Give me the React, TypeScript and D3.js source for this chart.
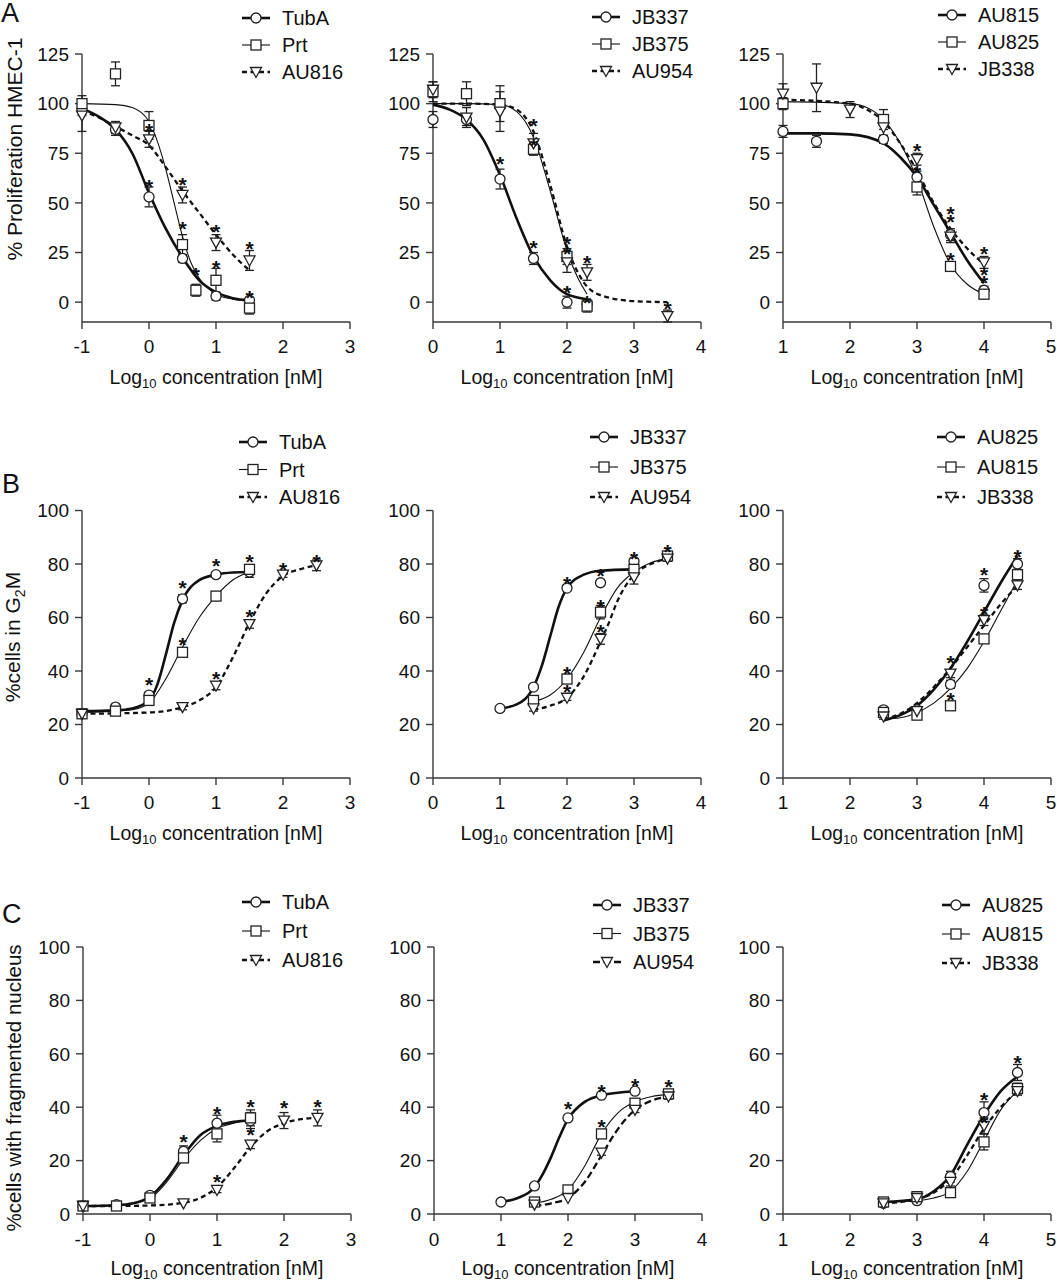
import React from 'react';
import * as d3 from 'd3';

// ---------- DATA (log10 conc, mean, error) ----------
// Row A: % Proliferation HMEC-1
const A1_names = ['TubA', 'Prt', 'AU816'];
const A1_TubA = [[-1, 97, 3], [-0.5, 87, 3], [0, 53, 5], [0.5, 22, 2], [1, 3, 2], [1.5, 1, 1]];
const A1_Prt = [[-1, 100, 4], [-0.5, 115, 6], [0, 89, 7], [0.5, 29, 5], [0.7, 6, 3], [1, 11, 6], [1.5, -3, 3]];
const A1_AU816 = [[-1, 94, 8], [-0.5, 88, 3], [0, 82, 4], [0.5, 54, 4], [1, 30, 4], [1.5, 21, 5]];
const A1_TubA_fit = [[-1, 97.5], [-0.75, 93.5], [-0.5, 87], [-0.25, 75], [0, 55], [0.25, 37], [0.5, 22.5], [0.75, 11], [1, 5], [1.25, 2], [1.5, 1]];
const A1_Prt_fit = [[-1, 100], [-0.5, 99.5], [-0.25, 98], [0, 91], [0.125, 81], [0.25, 67], [0.375, 50], [0.5, 33], [0.625, 20], [0.75, 12], [1, 4], [1.25, 1.5], [1.5, 0.5]];
const A1_AU816_fit = [[-1, 96.5], [-0.75, 93], [-0.5, 88.5], [-0.25, 84], [0, 79], [0.25, 68], [0.5, 56], [0.75, 45], [1, 34], [1.25, 24], [1.5, 16]];
const A1_stars = [[0, 60.5], [0, 88.5], [0.5, 61.5], [0.5, 39.5], [0.7, 16], [1, 38], [1, 19.5], [1.5, 29.5], [1.5, 4.5]];

const A2_names = ['JB337', 'JB375', 'AU954'];
const A2_JB337 = [[0, 92, 4], [0.5, 92, 3], [1, 62, 5], [1.5, 22, 3], [2, 0, 3], [2.3, -1, 2]];
const A2_JB375 = [[0, 106, 5], [0.5, 105, 6], [1, 100, 9], [1.5, 77, 3], [2, 23, 4], [2.3, -2, 3]];
const A2_AU954 = [[0, 107, 4], [0.5, 93, 5], [1, 96, 10], [1.5, 80, 5], [2, 20, 5], [2.3, 15, 4], [3.5, -7, 3]];
const A2_JB337_fit = [[0, 99.5], [0.25, 97], [0.5, 92], [0.75, 82], [1, 64], [1.25, 42], [1.5, 23], [1.75, 11], [2, 4], [2.3, 1.5]];
const A2_JB375_fit = [[0, 100], [0.5, 100], [1, 99.5], [1.25, 96], [1.5, 83], [1.75, 56], [2, 26], [2.15, 13], [2.3, 4]];
const A2_AU954_fit = [[0, 100], [0.5, 100], [1, 99.5], [1.25, 97], [1.5, 86], [1.75, 59], [2, 28], [2.25, 10], [2.5, 3.5], [3, 0.5], [3.5, 0]];
const A2_stars = [[1.5, 91.5], [1.5, 81], [1, 72], [1.5, 30], [2, 32], [2, 27], [2, 7], [2.3, 22], [2.3, 2], [3.5, -1]];

const A3_names = ['AU815', 'AU825', 'JB338'];
const A3_AU815 = [[1, 86, 3], [1.5, 81, 3], [2.5, 82, 2], [3, 63, 3], [3.5, 34, 3], [4, 6, 2]];
const A3_AU825 = [[1, 100, 3], [2.5, 92, 5], [3, 58, 4], [3.5, 18, 2], [4, 4, 2]];
const A3_JB338 = [[1, 105, 5], [1.5, 108, 12], [2, 97, 4], [2.5, 88, 4], [3, 72, 3], [3.5, 33, 3], [4, 20, 3]];
const A3_AU815_fit = [[1, 85], [1.5, 85], [2, 84.5], [2.5, 80], [2.75, 73], [3, 63], [3.25, 49], [3.5, 35], [3.75, 21], [4, 9.5]];
const A3_AU825_fit = [[1, 101], [2, 100], [2.25, 98], [2.5, 92], [2.75, 80], [3, 62], [3.25, 38], [3.5, 19], [3.75, 9], [4, 4]];
const A3_JB338_fit = [[1, 102], [2, 100], [2.25, 97], [2.5, 91], [2.75, 80], [3, 66], [3.25, 50], [3.5, 37], [3.75, 27], [4, 19]];
const A3_stars = [[3, 78.5], [3, 67.5], [3.5, 47], [3.5, 43], [3.5, 23.5], [4, 27], [4, 16], [4, 12]];

// Row B: % cells in G2M
const B1_names = ['TubA', 'Prt', 'AU816'];
const B1_TubA = [[-1, 24, 1], [-0.5, 26.5, 1], [0, 31, 1], [0.5, 67, 1.5], [1, 76, 1], [1.5, 77, 2]];
const B1_Prt = [[-1, 24, 1], [-0.5, 25, 1], [0, 29, 1], [0.5, 47, 1.5], [1, 68, 1], [1.5, 78, 1]];
const B1_AU816 = [[-1, 24, 1], [0.5, 26.5, 1], [1, 34.5, 1.5], [1.5, 57.5, 1.5], [2, 76, 1], [2.5, 79.5, 2]];
const B1_TubA_fit = [[-1, 25], [-0.5, 25.3], [-0.25, 26], [0, 29], [0.125, 35], [0.25, 46], [0.375, 58], [0.5, 66.5], [0.75, 74], [1, 76], [1.25, 76.8], [1.5, 77]];
const B1_Prt_fit = [[-1, 24.5], [-0.5, 25], [-0.25, 25.5], [0, 28], [0.25, 37], [0.5, 49], [0.75, 60], [1, 68], [1.25, 74], [1.5, 77]];
const B1_AU816_fit = [[-1, 24], [0, 24.5], [0.5, 26.5], [0.75, 29], [1, 34], [1.25, 45], [1.5, 58], [1.75, 69], [2, 75.5], [2.25, 78], [2.5, 79.5]];
const B1_stars = [[0, 36.5], [0.5, 72.75], [0.5, 51.5], [1, 81], [1, 39], [1.5, 82.75], [1.5, 62], [2, 79.6], [2.5, 82.75]];

const B2_names = ['JB337', 'JB375', 'AU954'];
const B2_JB337 = [[1, 26, 0.5], [1.5, 34, 0.5], [2, 71, 1], [2.5, 73, 0.5], [3, 81, 1]];
const B2_JB375 = [[1.5, 29, 1], [2, 37, 1], [2.5, 62, 2.5], [3, 78, 2], [3.5, 83, 1]];
const B2_AU954 = [[1.5, 26, 1], [2, 30, 1], [2.5, 52, 2], [3, 75, 2.5], [3.5, 82, 1]];
const B2_JB337_fit = [[1, 26], [1.25, 27.5], [1.5, 34], [1.625, 42], [1.75, 53], [1.875, 64], [2, 71], [2.25, 76], [2.5, 77.5], [3, 78]];
const B2_JB375_fit = [[1.5, 28.5], [1.75, 31], [2, 37], [2.25, 47], [2.5, 60], [2.75, 71], [3, 77], [3.25, 80.5], [3.5, 82]];
const B2_AU954_fit = [[1.5, 25.5], [1.75, 27], [2, 30], [2.25, 38], [2.5, 51], [2.625, 58], [2.75, 66], [3, 76], [3.25, 80], [3.5, 82]];
const B2_stars = [[2, 74.4], [2.5, 77.5], [3, 83.8], [3.5, 86.5], [2, 40.8], [2, 34], [2.5, 65.7], [2.5, 56.4]];

const B3_names = ['AU825', 'AU815', 'JB338'];
const B3_AU825 = [[2.5, 25.5, 1], [3, 25.5, 1], [3.5, 35, 1.5], [4, 72, 2.5], [4.5, 80, 2]];
const B3_AU815 = [[2.5, 24.5, 1], [3, 23.5, 1], [3.5, 27, 1], [4, 52, 1.5], [4.5, 76, 1.5]];
const B3_JB338 = [[2.5, 23, 1], [3, 25, 1], [3.5, 39, 1.5], [4, 59, 2], [4.5, 72, 1.5]];
const B3_AU825_fit = [[2.5, 21.5], [2.75, 23.5], [3, 27], [3.25, 33], [3.5, 41], [3.75, 51], [4, 62], [4.25, 73], [4.5, 83]];
const B3_AU815_fit = [[2.5, 22], [2.75, 22.5], [3, 24.5], [3.25, 28], [3.5, 33.5], [3.75, 41], [4, 51], [4.25, 62.5], [4.5, 74]];
const B3_JB338_fit = [[2.5, 22], [2.75, 24], [3, 28], [3.25, 34], [3.5, 41], [3.75, 49], [4, 57], [4.25, 65], [4.5, 72]];
const B3_stars = [[4, 77.7], [4.5, 84.6], [4, 63], [3.5, 45], [3.5, 31]];

// Row C: % cells with fragmented nucleus
const C1_names = ['TubA', 'Prt', 'AU816'];
const C1_TubA = [[-1, 3, 0.5], [-0.5, 3.5, 0.5], [0, 7, 0.5], [0.5, 23.5, 2], [1, 34, 3], [1.5, 35, 3]];
const C1_Prt = [[-1, 3, 0.5], [-0.5, 3, 0.5], [0, 6, 0.5], [0.5, 21, 1.5], [1, 30, 3], [1.5, 36, 3]];
const C1_AU816 = [[-1, 3, 0.5], [0.5, 4, 0.5], [1, 9, 1], [1.5, 26, 1.5], [2, 35, 3], [2.5, 36, 3]];
const C1_TubA_fit = [[-1, 3], [-0.5, 3.3], [-0.25, 4], [0, 6.5], [0.25, 13], [0.5, 22], [0.75, 29.5], [1, 33], [1.25, 34.5], [1.5, 35]];
const C1_Prt_fit = [[-1, 3], [-0.5, 3.2], [0, 6], [0.25, 12], [0.5, 20.5], [0.75, 27.5], [1, 32], [1.25, 34], [1.5, 35]];
const C1_AU816_fit = [[-1, 3], [-0.5, 3], [0, 3.2], [0.5, 4.2], [0.75, 6], [1, 10], [1.25, 17], [1.5, 25], [1.75, 31], [2, 34], [2.25, 35.5], [2.5, 36]];
const C1_stars = [[0.5, 29], [1, 39.5], [1.5, 42], [1.5, 31.5], [1, 14], [2, 41.5], [2.5, 42]];

const C2_names = ['JB337', 'JB375', 'AU954'];
const C2_JB337 = [[1, 4.5, 0.5], [1.5, 10.5, 0.5], [2, 36, 1], [2.5, 44.5, 0.5], [3, 46, 0.5]];
const C2_JB375 = [[1.5, 4.5, 0.5], [2, 9, 1], [2.5, 30, 1], [3, 41.5, 1], [3.5, 45, 1]];
const C2_AU954 = [[1.5, 3.5, 0.5], [2, 6, 0.5], [2.5, 23, 1], [3, 39, 1], [3.5, 44, 1]];
const C2_JB337_fit = [[1, 4.5], [1.25, 6], [1.5, 10], [1.625, 15], [1.75, 21.5], [1.875, 29], [2, 35.5], [2.25, 42], [2.5, 44.5], [3, 46]];
const C2_JB375_fit = [[1.5, 4], [1.75, 5.5], [2, 9], [2.25, 18], [2.5, 30], [2.75, 38], [3, 42], [3.25, 44], [3.5, 44.8]];
const C2_AU954_fit = [[1.5, 3], [1.75, 4], [2, 6], [2.25, 12], [2.5, 22], [2.75, 32], [3, 39], [3.25, 42.5], [3.5, 44]];
const C2_stars = [[2, 41.25], [2.5, 47.5], [3, 50], [3.5, 49.4], [2.5, 34.4]];

const C3_names = ['AU825', 'AU815', 'JB338'];
const C3_AU825 = [[2.5, 4, 0.5], [3, 5, 0.5], [3.5, 14, 2], [4, 38, 4], [4.5, 53, 3]];
const C3_AU815 = [[2.5, 4.5, 0.5], [3, 6.5, 0.5], [3.5, 8, 0.5], [4, 27, 3], [4.5, 47, 2]];
const C3_JB338 = [[2.5, 4, 0.5], [3, 6, 0.5], [3.5, 12, 1.5], [4, 33, 3], [4.5, 46, 1.5]];
const C3_AU825_fit = [[2.5, 4.5], [3, 5.5], [3.25, 8.5], [3.5, 14.5], [3.75, 26], [4, 37], [4.25, 46], [4.5, 51.5]];
const C3_AU815_fit = [[2.5, 4.5], [3, 5], [3.25, 6], [3.5, 8.5], [3.75, 16], [4, 27.5], [4.25, 39], [4.5, 46]];
const C3_JB338_fit = [[2.5, 4], [3, 5.5], [3.25, 8], [3.5, 13], [3.75, 22], [4, 32], [4.25, 40], [4.5, 46]];
const C3_stars = [[4, 44.6], [4.5, 58.6], [4, 36]];

const TICKS_A = [0, 25, 50, 75, 100, 125];
const TICKS_BC = [0, 20, 40, 60, 80, 100];
const XT1 = [-1, 0, 1, 2, 3];
const XT2 = [0, 1, 2, 3, 4];
const XT3 = [1, 2, 3, 4, 5];

// ---------- LAYOUT ----------
const FONT = '"Liberation Sans", Arial, Helvetica, sans-serif';
const PW = 268;
const AXIS = '#3a3a3a';
const INK = '#111';

type Panel = {
  left: number; top: number; bottom: number;
  xd: number[]; yd: number[]; xt: number[]; yt: number[];
  names: string[]; pts: number[][][]; fits: number[][][]; stars: number[][];
  lx: number; ly: number; lsp: number;
  tickOff: number; labOff: number; dash3?: string;
};

const rowA = { top: 54, bottom: 322, yd: [-10, 125], yt: TICKS_A, tickOff: 31, labOff: 62 };
const rowB = { top: 510.5, bottom: 778, yd: [0, 100], yt: TICKS_BC, tickOff: 31, labOff: 62 };
const rowC = { top: 947, bottom: 1214, yd: [0, 100], yt: TICKS_BC, tickOff: 32, labOff: 60.5 };

const panels: Panel[] = [
  { ...rowA, left: 82, xd: [-1, 3], xt: XT1, names: A1_names, pts: [A1_TubA, A1_Prt, A1_AU816], fits: [A1_TubA_fit, A1_Prt_fit, A1_AU816_fit], stars: A1_stars, lx: 242, ly: 18, lsp: 27 },
  { ...rowA, left: 433, xd: [0, 4], xt: XT2, names: A2_names, pts: [A2_JB337, A2_JB375, A2_AU954], fits: [A2_JB337_fit, A2_JB375_fit, A2_AU954_fit], stars: A2_stars, lx: 592, ly: 17, lsp: 27 },
  { ...rowA, left: 783, xd: [1, 5], xt: XT3, names: A3_names, pts: [A3_AU815, A3_AU825, A3_JB338], fits: [A3_AU815_fit, A3_AU825_fit, A3_JB338_fit], stars: A3_stars, lx: 938, ly: 15, lsp: 27 },
  { ...rowB, left: 82, xd: [-1, 3], xt: XT1, names: B1_names, pts: [B1_TubA, B1_Prt, B1_AU816], fits: [B1_TubA_fit, B1_Prt_fit, B1_AU816_fit], stars: B1_stars, lx: 239, ly: 442, lsp: 27.5 },
  { ...rowB, left: 433, xd: [0, 4], xt: XT2, names: B2_names, pts: [B2_JB337, B2_JB375, B2_AU954], fits: [B2_JB337_fit, B2_JB375_fit, B2_AU954_fit], stars: B2_stars, lx: 590, ly: 437, lsp: 30 },
  { ...rowB, left: 783, xd: [1, 5], xt: XT3, names: B3_names, pts: [B3_AU825, B3_AU815, B3_JB338], fits: [B3_AU825_fit, B3_AU815_fit, B3_JB338_fit], stars: B3_stars, lx: 937, ly: 437, lsp: 30 },
  { ...rowC, left: 83, xd: [-1, 3], xt: XT1, names: C1_names, pts: [C1_TubA, C1_Prt, C1_AU816], fits: [C1_TubA_fit, C1_Prt_fit, C1_AU816_fit], stars: C1_stars, lx: 242, ly: 902, lsp: 29 },
  { ...rowC, left: 434, xd: [0, 4], xt: XT2, names: C2_names, pts: [C2_JB337, C2_JB375, C2_AU954], fits: [C2_JB337_fit, C2_JB375_fit, C2_AU954_fit], stars: C2_stars, lx: 593, ly: 905, lsp: 28.5, dash3: '7,3.5' },
  { ...rowC, left: 783, xd: [1, 5], xt: XT3, names: C3_names, pts: [C3_AU825, C3_AU815, C3_JB338], fits: [C3_AU825_fit, C3_AU815_fit, C3_JB338_fit], stars: C3_stars, lx: 942, ly: 905, lsp: 29 },
];

const STYLES = [
  { w: 2.6, dash: undefined as string | undefined },
  { w: 1.1, dash: undefined as string | undefined },
  { w: 2.3, dash: '5,3.5' },
];

function Marker({ kind, x, y }: { kind: number; x: number; y: number }) {
  const st = { fill: '#fff', stroke: '#222', strokeWidth: 1.3 };
  if (kind === 0) return <circle cx={x} cy={y} r={5} {...st} />;
  if (kind === 1) return <rect x={x - 5} y={y - 5} width={10} height={10} {...st} />;
  return <path d={`M${x - 5.5},${y - 4.5}L${x + 5.5},${y - 4.5}L${x},${y + 5.5}Z`} {...st} />;
}

function PanelView({ p }: { p: Panel }) {
  const x = d3.scaleLinear().domain(p.xd).range([p.left, p.left + PW]);
  const y = d3.scaleLinear().domain(p.yd).range([p.bottom, p.top]);
  const line = d3.line<number[]>().x(d => x(d[0])).y(d => y(d[1])).curve(d3.curveMonotoneX);
  return (
    <g>
      {/* axes */}
      <line x1={p.left} x2={p.left} y1={p.top} y2={p.bottom} stroke={AXIS} strokeWidth={1.4} />
      <line x1={p.left} x2={p.left + PW} y1={p.bottom} y2={p.bottom} stroke={AXIS} strokeWidth={1.4} />
      {p.yt.map(t => (
        <g key={'y' + t}>
          <line x1={p.left - 7} x2={p.left} y1={y(t)} y2={y(t)} stroke={AXIS} strokeWidth={1.4} />
          <text x={p.left - 13} y={y(t) + 6.8} textAnchor="end" fontSize={19} fill={INK}>{t}</text>
        </g>
      ))}
      {p.xt.map(t => (
        <g key={'x' + t}>
          <line x1={x(t)} x2={x(t)} y1={p.bottom} y2={p.bottom + 7} stroke={AXIS} strokeWidth={1.4} />
          <text x={x(t)} y={p.bottom + p.tickOff} textAnchor="middle" fontSize={19} fill={INK}>{t}</text>
        </g>
      ))}
      <text x={p.left + PW / 2} y={p.bottom + p.labOff} textAnchor="middle" fontSize={19.5} fill={INK}>
        Log<tspan fontSize={13} dy={4}>10</tspan><tspan dy={-4}> concentration [nM]</tspan>
      </text>
      {/* fitted curves */}
      {p.fits.map((f, i) => (
        <path key={'f' + i} d={line(f) || ''} fill="none" stroke="#111" strokeWidth={STYLES[i].w}
          strokeDasharray={i === 2 ? (p.dash3 || STYLES[i].dash) : undefined} />
      ))}
      {/* error bars */}
      {p.pts.map((s, i) => s.map((d, j) => {
        if (d[2] <= 0.6) return null;
        const cx = x(d[0]);
        return (
          <g key={'e' + i + '-' + j} stroke="#222" strokeWidth={1.3}>
            <line x1={cx} x2={cx} y1={y(d[1] - d[2])} y2={y(d[1] + d[2])} />
            <line x1={cx - 4.5} x2={cx + 4.5} y1={y(d[1] + d[2])} y2={y(d[1] + d[2])} />
            <line x1={cx - 4.5} x2={cx + 4.5} y1={y(d[1] - d[2])} y2={y(d[1] - d[2])} />
          </g>
        );
      }))}
      {/* markers */}
      {p.pts.map((s, i) => s.map((d, j) => (
        <Marker key={'m' + i + '-' + j} kind={i} x={x(d[0])} y={y(d[1])} />
      )))}
      {/* significance stars */}
      {p.stars.map((s, k) => (
        <text key={'s' + k} x={x(s[0])} y={y(s[1]) + 12} textAnchor="middle" fontSize={21} fontWeight="bold" fill={INK}>*</text>
      ))}
      {/* legend */}
      {p.names.map((n, i) => {
        const ly = p.ly + i * p.lsp;
        return (
          <g key={'l' + i}>
            <line x1={p.lx} x2={p.lx + 28} y1={ly} y2={ly} stroke="#111" strokeWidth={STYLES[i].w}
              strokeDasharray={i === 2 ? (p.dash3 || STYLES[i].dash) : undefined} />
            <Marker kind={i} x={p.lx + 14} y={ly} />
            <text x={p.lx + 40} y={ly + 7} fontSize={20} fill={INK}>{n}</text>
          </g>
        );
      })}
    </g>
  );
}

export default function App() {
  return (
    <svg width={1057} height={1283} style={{ position: 'absolute', left: 0, top: 0, background: '#fff' }}
      fontFamily={FONT}>
      <rect x={0} y={0} width={1057} height={1283} fill="#fff" />
      {panels.map((p, i) => <PanelView key={i} p={p} />)}
      {/* panel letters */}
      <text x={1} y={22} fontSize={27} fill={INK}>A</text>
      <text x={2} y={493} fontSize={27} fill={INK}>B</text>
      <text x={2} y={923} fontSize={27} fill={INK}>C</text>
      {/* y-axis titles */}
      <text transform="translate(22,149) rotate(-90)" textAnchor="middle" fontSize={21} fill={INK}>% Proliferation HMEC-1</text>
      <text transform="translate(20,637) rotate(-90)" textAnchor="middle" fontSize={21} fill={INK}>
        %cells in G<tspan fontSize={14} dy={5}>2</tspan><tspan dy={-5}>M</tspan>
      </text>
      <text transform="translate(21,1088) rotate(-90)" textAnchor="middle" fontSize={20.5} fill={INK}>%cells with fragmented nucleus</text>
    </svg>
  );
}
